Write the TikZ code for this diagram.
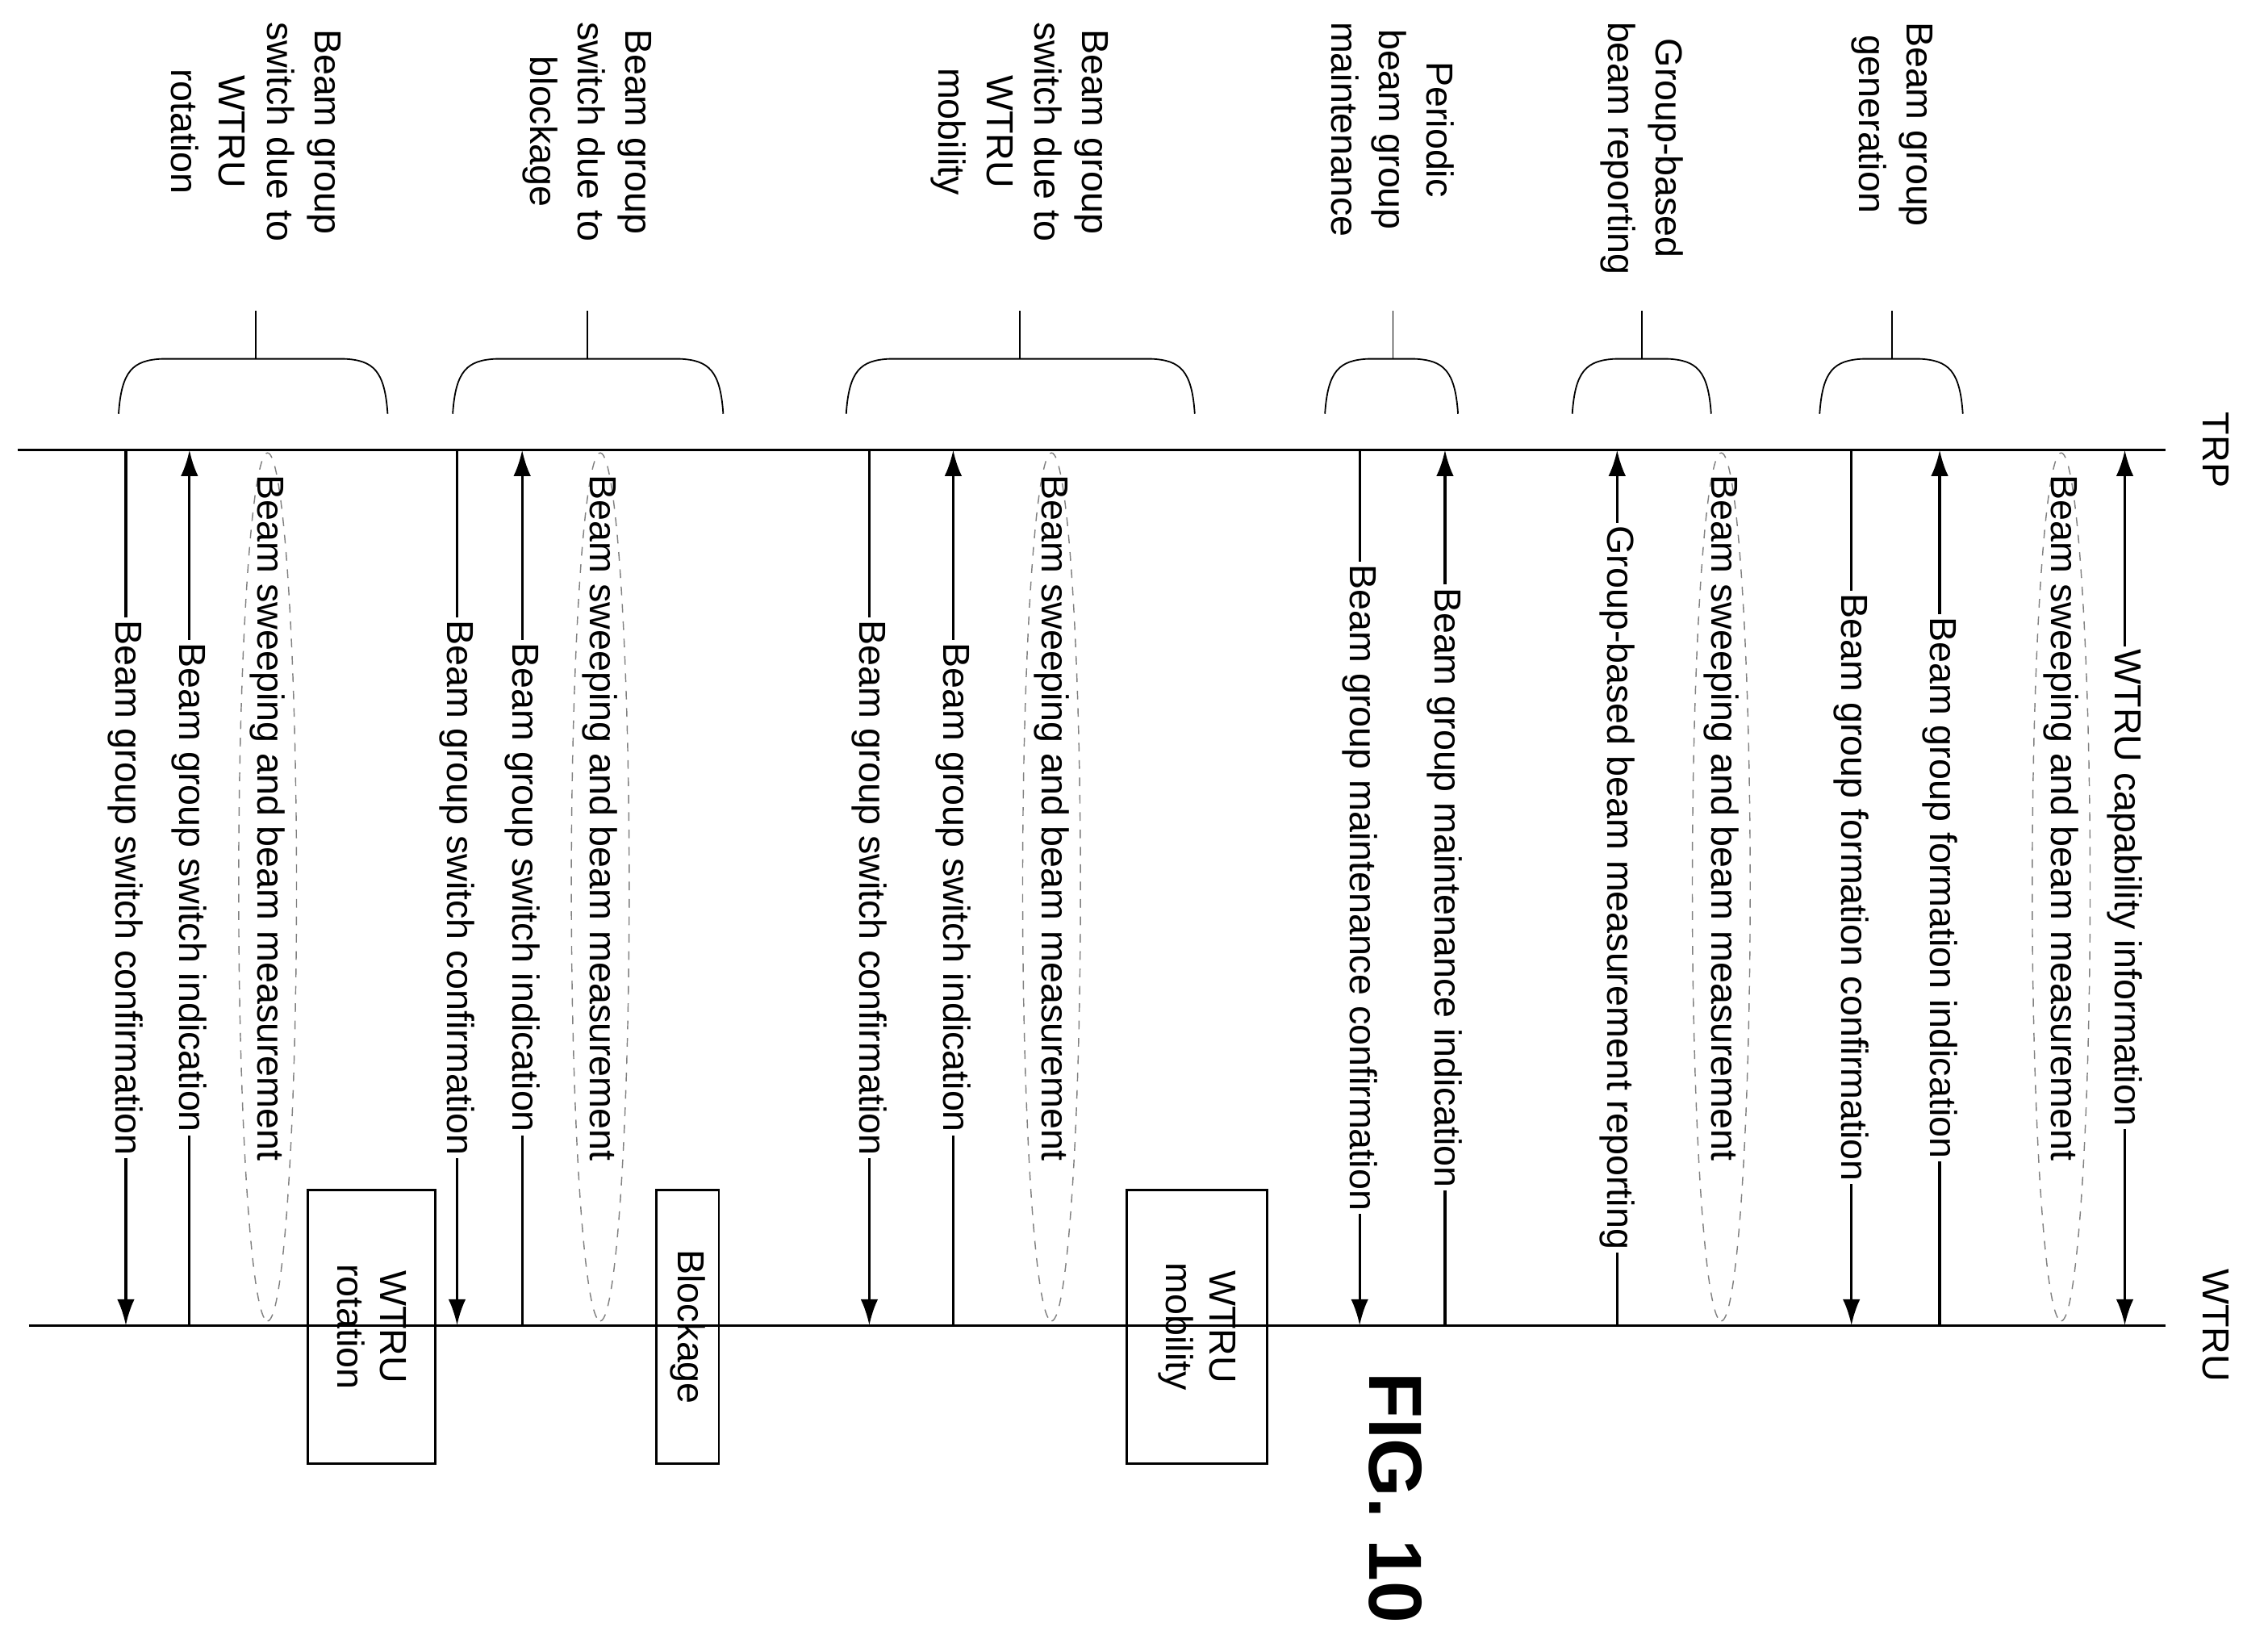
\documentclass[tikz,border=0pt]{standalone}
\usepackage{fontspec}
\setmainfont{Liberation Sans}
\usetikzlibrary{arrows.meta,shapes.geometric}

\begin{document}
\begin{tikzpicture}[x=0.5pt,y=-0.5pt,
    lbl/.style={rotate=-90,fill=white,inner sep=1pt,font=\fontsize{13}{15}\selectfont},
    msg/.style={line width=0.9pt,-{Latex[length=9pt,width=6pt]}},
    sweep/.style={draw=gray,dashed,ellipse,minimum width=300pt,minimum height=20pt,rotate=-90,inner sep=0pt},
    box/.style={draw,line width=0.8pt,rotate=-90,align=center,font=\fontsize{13}{15}\selectfont},
    phase/.style={rotate=-90,anchor=west,align=center,font=\fontsize{13}{16.5}\selectfont},
    brace/.style={line width=0.5pt}]
    \useasboundingbox (0,0) rectangle (1568,1136);
    % time lines
    \coordinate (trpL) at (12,311);  \coordinate (trpR) at (1497,311);
    \coordinate (ueL) at (20,916);   \coordinate (ueR) at (1497,916);
    \draw[line width=0.9pt] (trpL) -- (trpR);
    \draw[line width=0.9pt] (ueL) -- (ueR);
    \node[lbl,fill=none] (trp) at (1532,311) {TRP};
    \node[lbl,fill=none] (ue) at (1532,916) {WTRU};
    % messages TRP -> WTRU
    \foreach \x/\t [count=\i] in {87/Beam group switch confirmation,
        316/Beam group switch confirmation, 601/Beam group switch confirmation,
        940/Beam group maintenance confirmation, 1280/Beam group formation confirmation} {
        \coordinate (d\i t) at (\x,311); \coordinate (d\i b) at (\x,916);
        \draw[msg] (d\i t) -- node[lbl] {\t} (d\i b);
    }
    % messages WTRU -> TRP
    \foreach \x/\t [count=\i] in {131/Beam group switch indication,
        361/Beam group switch indication, 659/Beam group switch indication,
        999/Beam group maintenance indication, 1118/Group-based beam measurement reporting,
        1341/Beam group formation indication} {
        \coordinate (u\i t) at (\x,311); \coordinate (u\i b) at (\x,916);
        \draw[msg] (u\i b) -- node[lbl] {\t} (u\i t);
    }
    \coordinate (c t) at (1469,311); \coordinate (c b) at (1469,916);
    \draw[msg,{Latex[length=9pt,width=6pt]}-{Latex[length=9pt,width=6pt]}] (c t) -- node[lbl] {WTRU capability information} (c b);
    % beam sweeping
    \foreach \x [count=\i] in {185,415,727,1190,1425} {
        \node[sweep] (s\i) at (\x,613) {};
        \node[lbl,fill=none,anchor=west] at (\x,326) {Beam sweeping and beam measurement};
    }
    % events
    \node[box,minimum width=94.5pt,minimum height=44pt] (rot) at (257,917) {WTRU\\rotation};
    \node[box,minimum width=94.5pt,minimum height=21.5pt] (blk) at (475.5,917) {Blockage};
    \node[box,minimum width=94.5pt,minimum height=48.5pt] (mob) at (827.5,917) {WTRU\\mobility};
    % phases
    \foreach \a/\b/\m/\t [count=\i] in {82/268/177/{Beam group\\switch due to\\WTRU\\rotation},
        313/500/406/{Beam group\\switch due to\\blockage},
        585/826/705/{Beam group\\switch due to\\WTRU\\mobility},
        916/1008/963/{Periodic\\beam group\\maintenance},
        1087/1183/1135/{Group-based\\beam reporting},
        1258/1357/1308/{Beam group\\generation}} {
        \draw[brace] (\a,286) .. controls (\a+2,256) and (\a+10,249) .. (\a+30,248)
            -- (\b-30,248) .. controls (\b-10,249) and (\b-2,256) .. (\b,286);
        \coordinate (p\i) at (\m,248); \coordinate (q\i) at (\m,215);
        \draw[brace] (p\i) -- (q\i);
        \node[phase] (ph\i) at (\m,8) {\t};
    }
    \node[rotate=-90,font=\fontsize{26}{30}\selectfont\bfseries] (fig) at (965,1035) {FIG. 10};
\end{tikzpicture}
\end{document}
